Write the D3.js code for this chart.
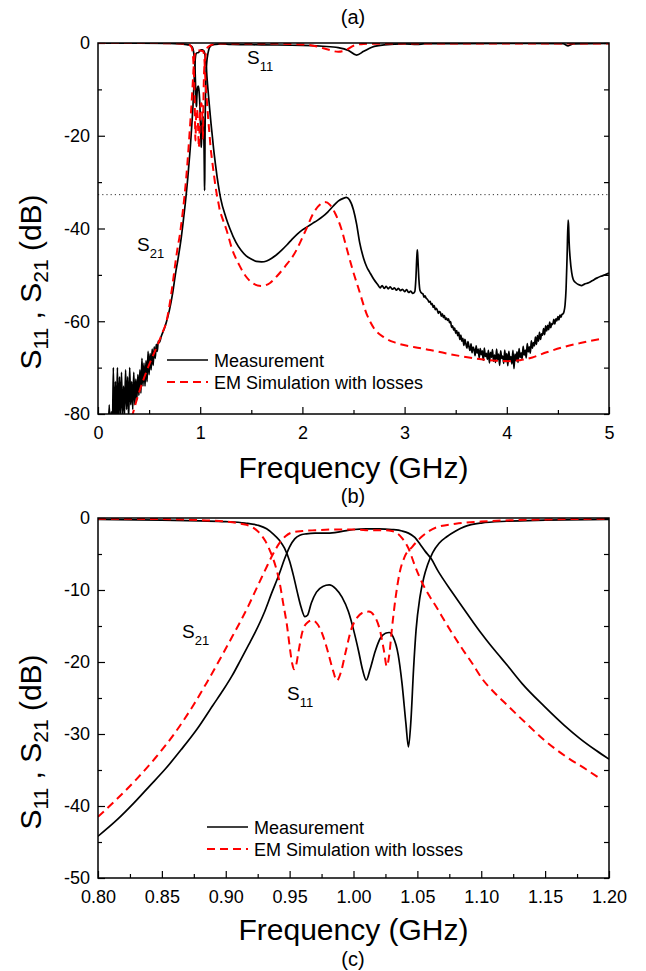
<!DOCTYPE html>
<html>
<head>
<meta charset="utf-8">
<script src="https://cdnjs.cloudflare.com/ajax/libs/d3/7.8.5/d3.min.js"></script>
<style>
  body { margin: 0; background: #fff; }
  svg { display: block; }
  text { font-family: "Liberation Sans", Arial, sans-serif; }
</style>
</head>
<body>
<div id="chart"></div>
<script>
// ---------- passband detail, 0.8 - 1.2 GHz (used by both panels) ----------
const bandS21Meas = [
  [0.800,-44.2],[0.815,-41.9],[0.828,-39.6],[0.840,-37.3],[0.853,-34.8],[0.865,-32.2],
  [0.878,-29.2],[0.890,-26.0],[0.898,-23.9],[0.905,-21.9],[0.912,-19.6],[0.918,-17.6],
  [0.923,-15.9],[0.930,-13.2],[0.936,-10.4],[0.942,-7.7],[0.946,-5.7],[0.950,-4.0],
  [0.954,-2.9],[0.958,-2.4],[0.963,-2.2],[0.970,-2.1],[0.980,-2.1],[0.990,-1.9],
  [1.000,-1.6],[1.010,-1.5],[1.020,-1.5],[1.030,-1.6],[1.038,-1.8],[1.043,-2.1],
  [1.048,-2.7],[1.052,-3.6],[1.056,-4.6],[1.061,-5.7],[1.066,-7.3],[1.071,-8.7],
  [1.076,-10.0],[1.085,-12.3],[1.093,-14.3],[1.100,-16.0],[1.107,-17.6],[1.114,-19.1],
  [1.121,-20.6],[1.132,-23.0],[1.149,-26.1],[1.165,-28.8],[1.177,-30.6],[1.190,-32.3],
  [1.200,-33.5]
];
const bandS21Sim = [
  [0.800,-41.5],[0.815,-39.0],[0.830,-36.3],[0.845,-33.3],[0.860,-29.9],[0.875,-25.9],
  [0.885,-22.9],[0.898,-18.8],[0.905,-16.5],[0.912,-14.2],[0.918,-12.1],[0.923,-10.2],
  [0.928,-8.3],[0.932,-6.8],[0.937,-5.0],[0.942,-3.5],[0.947,-2.5],[0.952,-2.0],
  [0.960,-1.8],[0.970,-1.7],[0.985,-1.6],[1.000,-1.6],[1.015,-1.7],[1.025,-1.7],
  [1.030,-1.8],[1.034,-2.1],[1.038,-2.8],[1.043,-4.2],[1.048,-6.6],[1.054,-9.1],
  [1.060,-11.0],[1.065,-12.4],[1.072,-14.5],[1.079,-16.5],[1.086,-18.4],[1.093,-20.2],
  [1.101,-22.4],[1.110,-24.2],[1.118,-25.6],[1.135,-28.5],[1.149,-30.8],[1.166,-33.1],
  [1.182,-34.9],[1.193,-36.2]
];
const bandS11Meas = [
  [0.800,-0.2],[0.850,-0.3],[0.880,-0.4],[0.900,-0.5],[0.915,-0.7],[0.925,-1.0],
  [0.932,-1.5],[0.937,-2.2],[0.942,-3.1],[0.946,-4.2],[0.950,-6.0],[0.953,-8.0],
  [0.956,-10.3],[0.959,-12.4],[0.962,-13.7],[0.964,-13.5],[0.967,-11.8],[0.971,-10.3],
  [0.976,-9.5],[0.981,-9.3],[0.986,-9.8],[0.991,-11.0],[0.996,-13.0],[1.000,-15.5],
  [1.004,-18.5],[1.007,-21.0],[1.010,-22.5],[1.013,-21.0],[1.017,-18.5],[1.021,-16.7],
  [1.025,-16.0],[1.028,-15.9],[1.031,-16.5],[1.035,-19.0],[1.038,-23.0],[1.041,-28.5],
  [1.043,-31.8],[1.045,-28.0],[1.047,-21.0],[1.049,-15.5],[1.052,-11.0],[1.055,-8.3],
  [1.058,-6.5],[1.062,-4.8],[1.067,-3.5],[1.073,-2.6],[1.080,-1.8],[1.087,-1.2],
  [1.100,-0.7],[1.120,-0.45],[1.150,-0.3],[1.200,-0.2]
];
const bandS11Sim = [
  [0.800,-0.1],[0.850,-0.15],[0.880,-0.3],[0.900,-0.5],[0.912,-0.8],[0.920,-1.2],
  [0.926,-2.0],[0.931,-3.2],[0.935,-4.7],[0.939,-6.7],[0.942,-8.8],[0.945,-11.9],
  [0.948,-15.0],[0.950,-17.8],[0.952,-20.2],[0.9535,-21.0],[0.955,-20.5],[0.957,-18.5],
  [0.960,-15.8],[0.964,-14.5],[0.968,-14.2],[0.972,-14.8],[0.976,-16.3],[0.980,-18.6],
  [0.984,-21.2],[0.987,-22.6],[0.990,-21.5],[0.994,-18.5],[0.998,-15.6],[1.003,-13.8],
  [1.008,-13.1],[1.012,-13.0],[1.017,-13.8],[1.021,-15.8],[1.024,-18.6],[1.026,-20.6],
  [1.028,-19.0],[1.030,-15.5],[1.033,-11.0],[1.036,-7.7],[1.040,-5.4],[1.046,-4.0],
  [1.054,-2.5],[1.065,-1.3],[1.080,-0.8],[1.100,-0.5],[1.150,-0.2],[1.200,-0.1]
];

// ---------- wide band, 0 - 5 GHz, outside the passband ----------
const wideS21MeasLow = [
  [0.10,-84],[0.11,-78],[0.12,-85],[0.13,-79.5],[0.14,-86],[0.15,-70],[0.16,-84],[0.17,-73],
  [0.18,-82],[0.19,-70],[0.20,-83],[0.21,-72],[0.22,-80],[0.23,-71],[0.24,-81],[0.25,-74],
  [0.26,-80],[0.27,-70.5],[0.28,-79],[0.29,-72],[0.30,-81],[0.31,-70],[0.32,-78],[0.33,-73],
  [0.34,-79],[0.35,-71],[0.36,-78],[0.37,-72.5],[0.38,-77],[0.39,-71.5],[0.40,-76],[0.41,-70.5],
  [0.42,-75.5],[0.43,-68],[0.44,-74],[0.45,-69],[0.46,-74],[0.47,-68.5],[0.48,-73],[0.49,-66.5],
  [0.50,-71.5],[0.51,-67],[0.52,-70.5],[0.53,-66],[0.54,-69.5],[0.55,-65.5],[0.56,-68],[0.57,-65],
  [0.58,-66.5],[0.59,-64.3],[0.60,-64.6],[0.62,-63.2],[0.65,-61.5],[0.67,-60.1],[0.70,-57.5],
  [0.73,-54],[0.76,-49.5],[0.78,-47]
];
const wideS21MeasMid = [
  [1.25,-37.5],[1.29,-40],[1.35,-43],[1.40,-44.7],[1.45,-45.9],[1.50,-46.6],[1.55,-47.1],
  [1.60,-47.2],[1.65,-47.0],[1.70,-46.4],[1.75,-45.6],[1.80,-44.6],[1.85,-43.5],[1.90,-42.3],
  [1.95,-41.2],[2.00,-40.3],[2.05,-39.6],[2.10,-38.9],[2.15,-38.2],[2.20,-37.4],[2.25,-36.4],
  [2.30,-35.2],[2.35,-34.1],[2.40,-33.5],[2.43,-33.3],[2.46,-33.8],[2.50,-36.0],[2.53,-39.0],
  [2.56,-43.0],[2.60,-46.5],[2.63,-48.3],[2.66,-49.5],[2.70,-51.0],[2.74,-52.2],[2.76,-52.8],
  [2.78,-52.3],[2.80,-52.9],[2.82,-52.5],[2.84,-53.0],[2.86,-52.6],[2.88,-53.1],[2.90,-52.8],
  [2.92,-53.3],[2.94,-52.9],[2.96,-53.4],[2.98,-53.1],[3.00,-53.6],[3.02,-53.2],[3.04,-53.8],
  [3.06,-53.5],[3.08,-54.0],[3.10,-53.6],[3.11,-51],[3.12,-46],[3.125,-44.6],[3.13,-46.5],
  [3.14,-51],[3.15,-53.3],[3.17,-54.0]
];
const wideS21MeasHigh = [
  [3.18,-54.1],[3.19,-54.8],[3.20,-54.5],[3.21,-55.0],[3.22,-55.2],[3.23,-55.5],[3.24,-55.9],
  [3.25,-55.7],[3.26,-56.4],[3.27,-56.2],[3.28,-57.0],[3.29,-56.6],[3.30,-57.5],[3.31,-57.2],
  [3.32,-57.6],[3.33,-58.3],[3.34,-57.9],[3.35,-58.1],[3.36,-58.9],[3.37,-58.4],[3.38,-59.2],
  [3.39,-58.8],[3.40,-59.6],[3.41,-59.3],[3.42,-59.8],[3.43,-59.5],[3.44,-60.3],[3.45,-60.1],
  [3.46,-61.3],[3.47,-61.0],[3.48,-61.9],[3.49,-61.5],[3.50,-62.6],[3.51,-62.0],[3.52,-63.1],
  [3.53,-62.4],[3.54,-63.9],[3.55,-63.0],[3.56,-64.3],[3.57,-63.7],[3.58,-65.2],[3.59,-63.9],
  [3.60,-64.9],[3.61,-65.8],[3.62,-64.4],[3.63,-65.5],[3.64,-66.3],[3.65,-64.9],[3.66,-66.8],
  [3.67,-65.6],[3.68,-66.1],[3.69,-67.4],[3.70,-65.3],[3.71,-66.9],[3.72,-66.0],[3.73,-67.9],
  [3.74,-65.9],[3.75,-67.2],[3.76,-66.4],[3.77,-68.4],[3.78,-65.8],[3.79,-67.6],[3.80,-66.9],
  [3.81,-68.2],[3.82,-66.3],[3.83,-69.0],[3.84,-66.7],[3.85,-67.8],[3.86,-66.1],[3.87,-68.6],
  [3.88,-67.3],[3.89,-68.9],[3.90,-66.0],[3.91,-68.3],[3.92,-67.1],[3.93,-69.5],[3.94,-66.4],
  [3.95,-68.0],[3.96,-67.5],[3.97,-69.1],[3.98,-66.2],[3.99,-68.7],[4.00,-67.0],[4.01,-69.6],
  [4.02,-66.5],[4.03,-68.4],[4.04,-67.6],[4.05,-69.2],[4.06,-66.3],[4.07,-70.2],[4.08,-67.1],
  [4.09,-68.5],[4.10,-66.6],[4.11,-68.9],[4.12,-65.9],[4.13,-67.8],[4.14,-66.8],[4.15,-68.1],
  [4.16,-65.4],[4.17,-67.3],[4.18,-66.2],[4.19,-67.9],[4.20,-64.8],[4.21,-66.6],[4.22,-65.5],
  [4.23,-66.9],[4.24,-64.2],[4.25,-65.8],[4.26,-64.6],[4.27,-65.3],[4.28,-63.4],[4.29,-65.0],
  [4.30,-63.1],[4.31,-64.3],[4.32,-62.4],[4.33,-63.9],[4.34,-62.7],[4.35,-63.0],[4.36,-61.6],
  [4.37,-62.9],[4.38,-61.0],[4.39,-62.1],[4.40,-60.9],[4.41,-61.8],[4.42,-60.2],[4.43,-61.4],
  [4.44,-60.5],[4.45,-60.7],[4.46,-59.6],[4.47,-60.6],[4.48,-59.5],[4.49,-59.9],[4.50,-59.0],
  [4.51,-59.7],[4.52,-58.7],[4.53,-59.1],[4.54,-58.5],[4.55,-58.4],[4.56,-57.9],[4.57,-56.5],
  [4.58,-53],[4.59,-46],[4.60,-38.2],[4.605,-39.5],[4.61,-43],[4.62,-46.5],[4.635,-49.5],
  [4.65,-51],[4.67,-51.6],[4.70,-52.1],[4.73,-52.3],[4.76,-52.0],[4.80,-51.7],[4.84,-51.2],
  [4.88,-50.7],[4.92,-50.3],[4.96,-50.0],[5.00,-49.6]
];
const wideS21SimLow = [
  [0.30,-83.5],[0.34,-80],[0.41,-74.8],[0.48,-70.5],[0.54,-67.3],[0.59,-64.7],[0.63,-62.5],
  [0.67,-60],[0.70,-56.5],[0.73,-52],[0.76,-47],[0.78,-44]
];
const wideS21SimHigh = [
  [1.20,-36.7],[1.26,-40.5],[1.31,-44.3],[1.38,-47.8],[1.45,-50.4],[1.52,-51.9],[1.60,-52.4],
  [1.68,-51.8],[1.75,-50.3],[1.83,-48.2],[1.92,-45.5],[2.03,-40.5],[2.11,-36.6],[2.17,-34.9],
  [2.22,-34.3],[2.27,-34.9],[2.32,-36.7],[2.38,-40.0],[2.43,-44.0],[2.49,-48.8],[2.55,-53.0],
  [2.63,-58.5],[2.70,-61.5],[2.80,-63.5],[2.92,-64.7],[3.10,-65.6],[3.25,-66.2],[3.40,-66.9],
  [3.57,-67.6],[3.75,-68.2],[3.90,-68.5],[4.05,-68.6],[4.13,-68.4],[4.25,-67.8],[4.39,-66.7],
  [4.55,-65.6],[4.72,-64.7],[4.85,-64.1],[4.95,-63.7]
];
const wideS11MeasLow = [[0.00,-0.05],[0.40,-0.05],[0.70,-0.1]];
const wideS11MeasHigh = [
  [1.30,-0.3],[1.60,-0.4],[2.00,-0.5],[2.20,-0.7],[2.35,-1.0],[2.45,-1.6],[2.53,-2.6],
  [2.60,-1.8],[2.68,-0.9],[2.80,-0.4],[3.00,-0.2],[3.12,-0.3],[3.20,-0.15],[4.00,-0.1],
  [4.55,-0.15],[4.60,-0.6],[4.65,-0.2],[5.00,-0.1]
];
const wideS11SimLow = [[0.00,0],[0.40,0],[0.70,-0.05]];
const wideS11SimHigh = [
  [1.30,-0.1],[1.60,-0.1],[2.00,-0.3],[2.15,-0.8],[2.25,-1.4],[2.35,-1.9],[2.42,-1.6],
  [2.50,-0.6],[2.60,-0.2],[3.00,-0.1],[5.00,-0.1]
];
const dottedLevel = -32.7;

// ---------- axis ticks ----------
const wideXTicks = [0, 1, 2, 3, 4, 5];
const wideXMinor = [0.5, 1.5, 2.5, 3.5, 4.5];
const wideYTicks = [-80, -60, -40, -20, 0];
const wideYMinor = [-70, -50, -30, -10];
const bandXTicks = [0.80, 0.85, 0.90, 0.95, 1.00, 1.05, 1.10, 1.15, 1.20];
const bandXMinor = [0.825, 0.875, 0.925, 0.975, 1.025, 1.075, 1.125, 1.175];
const bandYTicks = [-50, -40, -30, -20, -10, 0];
const bandYMinor = [-45, -35, -25, -15, -5];

const W = 646, H = 971;
const svg = d3.select("#chart").append("svg").attr("width", W).attr("height", H);

const panels = [
  {
    id: "a", x0: 0, x1: 5, y0: -80, y1: 0, top: 43, bottom: 414,
    xTicks: wideXTicks, xMinor: wideXMinor, yTicks: wideYTicks, yMinor: wideYMinor,
    xFmt: d => String(d),
    series: {
      s21m: wideS21MeasLow.concat(bandS21Meas, wideS21MeasMid, wideS21MeasHigh),
      s21s: wideS21SimLow.concat(bandS21Sim, wideS21SimHigh),
      s11m: wideS11MeasLow.concat(bandS11Meas, wideS11MeasHigh),
      s11s: wideS11SimLow.concat(bandS11Sim, wideS11SimHigh)
    },
    dotted: dottedLevel,
    titleY: 478, yTitleC: 282, legY: 360, legX: 167,
    labels: [{t: "S", s: "11", x: 247, y: 64}, {t: "S", s: "21", x: 137, y: 251}]
  },
  {
    id: "b", x0: 0.8, x1: 1.2, y0: -50, y1: 0, top: 518, bottom: 878,
    xTicks: bandXTicks, xMinor: bandXMinor, yTicks: bandYTicks, yMinor: bandYMinor,
    xFmt: d3.format(".2f"),
    series: { s21m: bandS21Meas, s21s: bandS21Sim, s11m: bandS11Meas, s11s: bandS11Sim },
    dotted: null,
    titleY: 940, yTitleC: 742, legY: 827, legX: 207,
    labels: [{t: "S", s: "21", x: 182, y: 638}, {t: "S", s: "11", x: 287, y: 700}]
  }
];

const left = 98, right = 609;

panels.forEach(p => {
  const x = d3.scaleLinear().domain([p.x0, p.x1]).range([left, right]);
  const y = d3.scaleLinear().domain([p.y0, p.y1]).range([p.bottom, p.top]);
  const g = svg.append("g");

  g.append("clipPath").attr("id", "clip-" + p.id)
    .append("rect").attr("x", left).attr("y", p.top)
    .attr("width", right - left).attr("height", p.bottom - p.top);

  // axes, ticks pointing inward
  const styleAxis = a => {
    a.select(".domain").remove();
    a.selectAll("line").attr("stroke", "#000").attr("stroke-width", 1.2);
    a.selectAll("text").attr("font-size", 18).attr("fill", "#000")
      .attr("font-family", "Liberation Sans, Arial, sans-serif");
  };
  g.append("g").attr("transform", `translate(0,${p.bottom})`)
    .call(d3.axisBottom(x).tickValues(p.xTicks).tickFormat(p.xFmt).tickSizeInner(-7).tickSizeOuter(0).tickPadding(12))
    .call(styleAxis);
  g.append("g").attr("transform", `translate(0,${p.bottom})`)
    .call(d3.axisBottom(x).tickValues(p.xMinor).tickFormat("").tickSizeInner(-4).tickSizeOuter(0))
    .call(styleAxis);
  g.append("g").attr("transform", `translate(${left},0)`)
    .call(d3.axisLeft(y).tickValues(p.yTicks).tickFormat(d => String(d)).tickSizeInner(-7).tickSizeOuter(0).tickPadding(8))
    .call(styleAxis);
  g.append("g").attr("transform", `translate(${left},0)`)
    .call(d3.axisLeft(y).tickValues(p.yMinor).tickFormat("").tickSizeInner(-4).tickSizeOuter(0))
    .call(styleAxis);
  g.append("g").attr("transform", `translate(${right},0)`)
    .call(d3.axisRight(y).tickValues(p.yTicks.concat(p.yMinor)).tickFormat("").tickSizeInner(-5).tickSizeOuter(0))
    .call(styleAxis);

  if (p.dotted !== null) {
    g.append("line").attr("x1", left).attr("x2", right)
      .attr("y1", y(p.dotted)).attr("y2", y(p.dotted))
      .attr("stroke", "#333").attr("stroke-width", 1).attr("stroke-dasharray", "1.2,3");
  }

  const line = d3.line().x(d => x(d[0])).y(d => y(d[1])).curve(d3.curveMonotoneX);
  const curves = g.append("g").attr("clip-path", `url(#clip-${p.id})`);
  [["s11m", false], ["s21m", false], ["s11s", true], ["s21s", true]].forEach(([k, sim]) => {
    curves.append("path").datum(p.series[k]).attr("d", line).attr("fill", "none")
      .attr("stroke", sim ? "#ff0000" : "#000")
      .attr("stroke-width", sim ? 2 : 1.7)
      .attr("stroke-dasharray", sim ? "8,5" : null)
      .attr("stroke-linejoin", "round");
  });

  // frame
  g.append("rect").attr("x", left).attr("y", p.top)
    .attr("width", right - left).attr("height", p.bottom - p.top)
    .attr("fill", "none").attr("stroke", "#000").attr("stroke-width", 1.5);

  // curve labels
  p.labels.forEach(l => {
    const t = g.append("text").attr("x", l.x).attr("y", l.y).attr("font-size", 19);
    t.append("tspan").text(l.t);
    t.append("tspan").attr("font-size", 13).attr("dy", 7).text(l.s);
  });

  // legend
  const lg = g.append("g");
  lg.append("line").attr("x1", p.legX).attr("x2", p.legX + 41)
    .attr("y1", p.legY).attr("y2", p.legY).attr("stroke", "#000").attr("stroke-width", 1.7);
  lg.append("line").attr("x1", p.legX).attr("x2", p.legX + 41)
    .attr("y1", p.legY + 22).attr("y2", p.legY + 22).attr("stroke", "#ff0000")
    .attr("stroke-width", 2).attr("stroke-dasharray", "8,5");
  lg.append("text").attr("x", p.legX + 47).attr("y", p.legY + 6.5).attr("font-size", 18).text("Measurement");
  lg.append("text").attr("x", p.legX + 47).attr("y", p.legY + 28.5).attr("font-size", 18).text("EM Simulation with losses");

  // axis titles
  svg.append("text").attr("x", (left + right) / 2).attr("y", p.titleY)
    .attr("text-anchor", "middle").attr("font-size", 30).text("Frequency (GHz)");
  const yt = svg.append("text").attr("transform", `translate(41,${p.yTitleC}) rotate(-90)`)
    .attr("text-anchor", "middle").attr("font-size", 30);
  yt.append("tspan").text("S");
  yt.append("tspan").attr("font-size", 21).attr("dy", 7).text("11");
  yt.append("tspan").attr("dy", -7).text(" , S");
  yt.append("tspan").attr("font-size", 21).attr("dy", 7).text("21");
  yt.append("tspan").attr("dy", -7).text(" (dB)");
});

// panel letters
[["(a)", 24], ["(b)", 503], ["(c)", 966]].forEach(([t, yy]) => {
  svg.append("text").attr("x", 353).attr("y", yy).attr("text-anchor", "middle")
    .attr("font-family", "Liberation Serif, Times New Roman, serif")
    .attr("font-size", 20).text(t);
});
</script>
</body>
</html>
